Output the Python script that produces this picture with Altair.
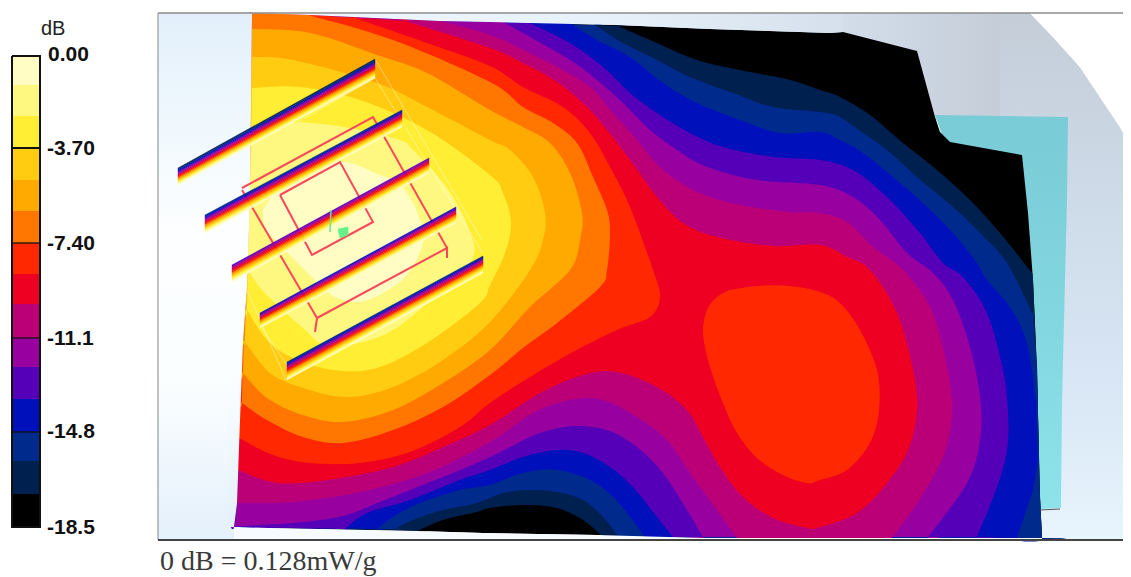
import altair as alt
import pandas as pd

# band colours, hottest first
COLORS = ["#FFFDC4", "#FFF880", "#FFEE33", "#FFCC11", "#FFAA00", "#FF7700", "#FF2800", "#EE0022",
          "#BB0077", "#9900A0", "#5500B8", "#0011BB", "#002A8C", "#002050", "#000000"]
LEGEND_EDGES = [56, 85, 116, 148, 180, 211, 243, 274, 304, 338, 367, 399, 432, 461, 494, 527]
TICK_LABELS = ["0.00", "-3.70", "-7.40", "-11.1", "-14.8", "-18.5"]
TICK_Y = [61, 155, 250, 345, 438, 534]
TICK_LINES = [148, 243, 338, 432]

FIELD = [(252,13),(310,15),(440,21),(490,22),(617,25),(710,29),(830,33),(843,32),(917,51),(935,117),(940,132),
         (950,142),(1022,155),(1028,213),(1033,280),(1037,370),(1040,497),(1042,538),(703,538),(597,535),(483,533),
         (417,531),(268,528),(234,527),(237,503),(240,420),(243,343),(247,287),(250,200)]
B14 = [(252,13),(310,15),(440,21),(490,22),(618,26),(657,43),(697,60),(740,70),(790,80),(820,90),(840,97),(870,115),
       (903,143),(937,170),(970,200),(1000,233),(1032,273),(1033,280),(1037,370),(1040,497),(1042,538),(703,538),
       (602,536),(583,520),(557,508),(523,505),(490,508),(477,512),(443,520),(417,531),(268,528),(234,527),(237,503),
       (240,420),(243,343),(247,287),(250,200)]
B13 = [(252,13),(310,15),(440,21),(490,22),(595,25),(623,43),(657,60),(690,77),(733,93),(773,107),(820,112),(840,117),
       (863,133),(887,150),(917,177),(953,207),(980,233),(1007,263),(1033,315),(1037,370),(1040,497),(1042,538),
       (703,538),(618,536),(603,517),(583,500),(557,492),(530,490),(503,493),(477,503),(443,510),(413,520),(395,529),
       (268,528),(234,527),(237,503),(240,420),(243,343),(247,287),(250,200)]
B12 = [(252,13),(310,15),(440,21),(490,22),(570,23),(597,40),(630,57),(663,83),(697,103),(740,120),(780,133),(820,132),
       (840,140),(863,153),(893,177),(923,203),(953,233),(977,263),(987,280),(1010,307),(1027,343),(1036,400),
       (1038,460),(1033,490),(1017,538),(645,537),(630,517),(613,497),(590,480),(557,470),(523,473),(490,485),(460,490),
       (420,503),(393,517),(377,529),(268,528),(234,527),(237,503),(240,420),(243,343),(247,287),(250,200)]
B11 = [(252,13),(310,15),(440,21),(490,22),(530,23),(570,43),(603,67),(630,93),(657,113),(690,133),(723,147),(773,157),
       (820,160),(853,170),(887,197),(920,233),(943,263),(963,277),(987,313),(1003,370),(1008,413),(1007,450),(997,487),
       (977,537),(673,537),(657,517),(633,487),(610,467),(583,453),(557,450),(523,457),(490,470),(460,480),(410,500),
       (367,513),(345,529),(268,528),(234,527),(237,503),(240,420),(243,343),(247,287),(250,200)]
B10 = [(252,13),(310,15),(440,21),(490,22),(503,22),(530,37),(570,60),(597,80),(623,103),(650,130),(677,150),(707,167),
       (757,180),(820,185),(853,197),(880,220),(907,253),(933,273),(953,300),(970,347),(980,397),(980,440),(967,483),
       (928,537),(703,537),(687,510),(663,473),(637,447),(607,430),(573,426),(540,433),(510,447),(490,457),(460,470),
       (410,490),(377,503),(343,516),(293,523),(235,526),(237,503),(240,420),(243,343),(247,287),(250,200)]
B9 = [(252,13),(310,15),(440,21),(490,35),(523,50),(557,67),(590,87),(613,113),(637,140),(663,170),(697,192),(740,205),
      (790,212),(820,213),(847,222),(873,247),(903,270),(930,307),(945,357),(952,410),(943,457),(917,503),(892,538),
      (737,538),(717,510),(690,473),(667,440),(637,417),(603,400),(570,400),(533,413),(490,442),(427,473),(360,492),
      (293,502),(237,503),(240,420),(243,343),(247,287),(250,200)]
B8 = [(252,13),(310,15),(405,21),(490,48),(523,63),(557,82),(587,107),(607,130),(630,160),(657,197),(683,223),(717,237),
      (773,246),(820,245),(847,257),(870,270),(897,313),(913,370),(917,410),(908,450),(887,483),(857,513),(820,527),
      (807,528),(773,518),(743,497),(720,467),(703,437),(687,410),(657,387),(617,372),(583,375),(540,393),(490,425),
      (443,447),(393,467),(327,480),(277,483),(238,470),(240,420),(243,343),(247,287),(250,200)]
B7 = [(252,13),(310,15),(355,18),(427,43),(490,66),(523,87),(563,107),(590,133),(610,167),(630,207),(653,270),(660,297),
      (650,317),(617,330),(573,352),(530,377),(490,403),(460,427),(410,452),(360,463),(310,463),(273,455),(239,438),
      (243,343),(247,287),(250,200)]
B7_BLOB = [(730,290),(757,286),(790,286),(820,292),(840,303),(860,330),(877,370),(879,410),(870,443),(847,470),(820,480),
           (807,483),(783,475),(757,458),(737,433),(723,403),(710,367),(703,333),(707,310),(717,297)]
B6 = [(252,13),(308,15),(393,40),(490,82),(523,107),(553,123),(577,143),(593,177),(607,210),(610,233),(607,270),(600,287),
      (557,323),(523,348),(490,375),(443,407),(393,430),(343,443),(303,437),(267,420),(242,403),(243,343),(247,287),(250,200)]
B5 = [(252,29),(310,33),(377,55),(427,73),(490,110),(523,127),(550,143),(570,173),(582,213),(580,240),(570,270),(530,307),
      (490,350),(443,383),(393,410),(343,422),(303,415),(267,398),(243,373),(247,287),(250,200)]
B4 = [(252,57),(293,60),(377,83),(427,107),(490,140),(510,150),(533,177),(545,213),(543,240),(530,270),(490,322),(443,360),
      (393,387),(347,397),(303,388),(270,373),(245,342),(247,287),(250,200)]
B3 = [(252,88),(300,87),(360,100),(427,130),(490,175),(503,193),(511,223),(505,253),(490,285),(480,303),(427,343),(377,368),
      (333,370),(293,358),(267,340),(247,310),(250,200)]
B2 = [(252,127),(293,122),(350,128),(400,140),(413,150),(435,173),(453,197),(468,227),(473,258),(440,290),(417,312),(393,330),
      (363,342),(325,345),(303,328),(283,310),(262,290),(248,270),(250,200)]
B1 = [(263,210),(283,187),(337,162),(380,175),(400,185),(413,203),(422,227),(422,247),(407,275),(383,293),(360,302),
      (337,298),(320,285),(280,245),(265,228)]

PANEL = [(935,115),(1068,117),(1067,200),(1065,280),(1062,403),(1061,508),(1040,509),(1000,300)]
OUTSIDE_DISC = [(1030,13),(1053,37),(1080,67),(1100,97),(1120,127),(1131,147),(1131,13)]
BG_LEFT = [(158,13),(300,13),(300,540),(158,540)]
BG_TOP = [(300,13),(1000,13),(1000,120),(300,120)]
BG_RIGHT = [(1000,13),(1131,13),(1131,540),(1000,540)]
BG_BOTTOM = [(300,120),(1000,120),(1000,540),(300,540)]
MASK_LEFT = [(234,527),(237,503),(240,420),(243,343),(247,287),(250,200),(252,13),(240,13),(226,527)]
MASK_BOTTOM = [(234,527),(268,528),(417,531),(483,533),(597,535),(703,538),(1042,538),(1042,540),(234,540)]
MASK_TOP = [(252,13),(310,15),(440,21),(490,22),(617,25),(710,29),(830,33),(843,32),(843,13)]

# bars: left top, right top, left bottom, right bottom; first band index
BARS = [((178,168),(375,59),(178,185),(375,78),13),
        ((205,215),(402,110),(205,233),(402,127),12),
        ((232,265),(429,158),(232,282),(429,173),10),
        ((260,313),(456,207),(260,328),(456,223),11),
        ((287,362),(483,256),(287,380),(483,273),12)]
RED_OUTER = [(242,188),(373,117),(447,248),(447,258),(447,248),(317,318),(315,332),(317,318),(242,190)]
RED_INNER = [(280,195),(340,162),(373,222),(312,255),(280,195)]
GREEN_LINE = [(331,210),(330,232)]
GREEN_SQUARE = [(338,229),(348,227),(348,235),(340,238)]
WIRES = [[(375,78),(482,252)], [(375,59),(482,240)], [(375,78),(298,122)], [(247,290),(286,380)], [(260,325),(287,365)]]

X = alt.X("x:Q", scale=alt.Scale(domain=[8, 1123], nice=False, zero=False), axis=None)
Y = alt.Y("y:Q", scale=alt.Scale(domain=[577, 8], nice=False, zero=False), axis=None)


def grad(stops, x1=0, y1=0, x2=0, y2=1):
    return alt.LinearGradient(gradient="linear", x1=x1, y1=y1, x2=x2, y2=y2,
                              stops=[alt.GradientStop(offset=o, color=c) for o, c in stops])


def frame(pts):
    return pd.DataFrame({"x": [p[0] for p in pts], "y": [p[1] for p in pts], "o": list(range(len(pts)))})


def poly(pts, fill, sw=0.6):
    pts = list(pts) + [pts[0]]
    stroke = fill if isinstance(fill, str) and sw > 0 else "transparent"
    return alt.Chart(frame(pts)).mark_line(fill=fill, stroke=stroke, strokeWidth=sw, interpolate="linear",
                                           strokeJoin="round").encode(x=X, y=Y, order="o:Q")


def is_corner(p):
    return p[0] < 253 or p[0] >= 1030 or p[1] >= 529 or p[1] <= 26


def contour(pts, fill):
    out = []
    for p in list(pts) + [pts[0]]:
        out.append(p)
        if is_corner(p):
            out.append(p)
    return alt.Chart(frame(out)).mark_line(fill=fill, stroke="transparent", strokeWidth=0, interpolate="cardinal",
                                           tension=0).encode(x=X, y=Y, order="o:Q")


def line(pts, color, sw=1.0, op=1.0):
    return alt.Chart(frame(pts)).mark_line(color=color, strokeWidth=sw, opacity=op).encode(x=X, y=Y, order="o:Q")


LEFT_STOPS = [(0, "#E2EFFA"), (0.18, "#EEF7FD"), (0.4, "#FCFEFF"), (0.7, "#FBFEFF"), (1, "#E4F0FB")]
layers = [
    poly(BG_LEFT, grad(LEFT_STOPS)),
    poly(BG_BOTTOM, "#F6FBFF"),
    poly(BG_TOP, grad([(0, "#F2F9FE"), (0.3, "#E6F2FC"), (0.7, "#D8E3F0"), (1, "#C4CDD8")], x2=1, y2=0)),
    poly(BG_RIGHT, grad([(0, "#C4CDD8"), (0.4, "#CFDCEA"), (0.7, "#D8E6F5"), (1, "#E8F5FD")])),
    poly(OUTSIDE_DISC, "#FFFFFF"),
    poly(PANEL, grad([(0, "#79CBD6"), (0.5, "#82D6E0"), (1, "#8EE2E9")])),
    poly(FIELD, COLORS[14], 0),
]
for pts, c in [(B14, COLORS[13]), (B13, COLORS[12]), (B12, COLORS[11]), (B11, COLORS[10]), (B10, COLORS[9]), (B9, COLORS[8]),
               (B8, COLORS[7]), (B7, COLORS[6]), (B7_BLOB, COLORS[6]), (B6, COLORS[5]), (B5, COLORS[4]), (B4, COLORS[3]),
               (B3, COLORS[2]), (B2, COLORS[1]), (B1, COLORS[0])]:
    layers.append(contour(pts, c))

# background slivers laid over the field edge
layers += [poly(MASK_LEFT, grad(LEFT_STOPS), 0), poly(MASK_BOTTOM, "#F6FBFF", 0),
           poly(MASK_TOP, grad([(0, "#F2F9FE"), (0.6, "#E6F1FB"), (1, "#D5E0EC")], x2=1, y2=0), 0)]

layers += [line(RED_OUTER, "#F8485A", 2), line(RED_INNER, "#F8485A", 2), poly(GREEN_SQUARE, "#66F088")]
for w in WIRES:
    layers.append(line(w, "#FFFFFF", 0.7, 0.6))

for lt, rt, lb, rb, first in BARS:
    cols = [COLORS[i] for i in range(first, -1, -1)]
    n = len(cols)
    for k, c in enumerate(cols):
        f0, f1 = k / n, (k + 1) / n
        layers.append(poly([(lt[0], lt[1] + (lb[1] - lt[1]) * f0), (rt[0], rt[1] + (rb[1] - rt[1]) * f0),
                            (rt[0], rt[1] + (rb[1] - rt[1]) * f1), (lt[0], lt[1] + (lb[1] - lt[1]) * f1)], c, 0.4))
layers.append(line(GREEN_LINE, "#66E888", 1.5))

# frame lines
layers += [line([(158, 13), (1123, 13)], "#8C8C8C", 1.5), line([(158, 13), (158, 540)], "#9A9A9A", 1.2),
           line([(158, 540), (1123, 540)], "#444444", 2), line([(1040, 510), (1060, 509)], "#555555", 1)]

# legend bar
leg = pd.DataFrame({"x": [12] * 15, "x2": [40] * 15, "y": LEGEND_EDGES[:-1], "y2": LEGEND_EDGES[1:], "c": COLORS})
layers.append(alt.Chart(leg).mark_rect().encode(x=X, x2="x2:Q", y=Y, y2="y2:Q", color=alt.Color("c:N", scale=None)))
layers.append(line([(12, 56), (40, 56), (40, 527), (12, 527), (12, 56)], "#111111", 2))
for i, ty in enumerate(TICK_LINES):
    layers.append(line([(12, ty), (41, ty)], "#111111", 2 if i == 0 else 1.3))

labels = pd.DataFrame({"x": [48 if t == "0.00" else 47 for t in TICK_LABELS], "y": TICK_Y, "t": TICK_LABELS})
layers.append(alt.Chart(labels).mark_text(align="left", baseline="alphabetic", font="Liberation Sans", fontSize=21,
                                          fontWeight="bold", color="#111111").encode(x=X, y=Y, text="t:N"))
layers.append(alt.Chart(pd.DataFrame({"x": [41], "y": [35], "t": ["dB"]})).mark_text(
    align="left", baseline="alphabetic", font="Liberation Sans", fontSize=20, color="#222222").encode(x=X, y=Y, text="t:N"))
layers.append(alt.Chart(pd.DataFrame({"x": [160], "y": [570], "t": ["0 dB = 0.128mW/g"]})).mark_text(
    align="left", baseline="alphabetic", font="Liberation Serif", fontSize=28, color="#3A3A3A").encode(x=X, y=Y, text="t:N"))

chart = alt.layer(*layers).properties(
    width=1115, height=569, padding=0, autosize=alt.AutoSizeParams(type="none"), background="white"
).configure_view(stroke=None)
chart.save("out.html", embed_options={"renderer": "svg", "actions": False})
